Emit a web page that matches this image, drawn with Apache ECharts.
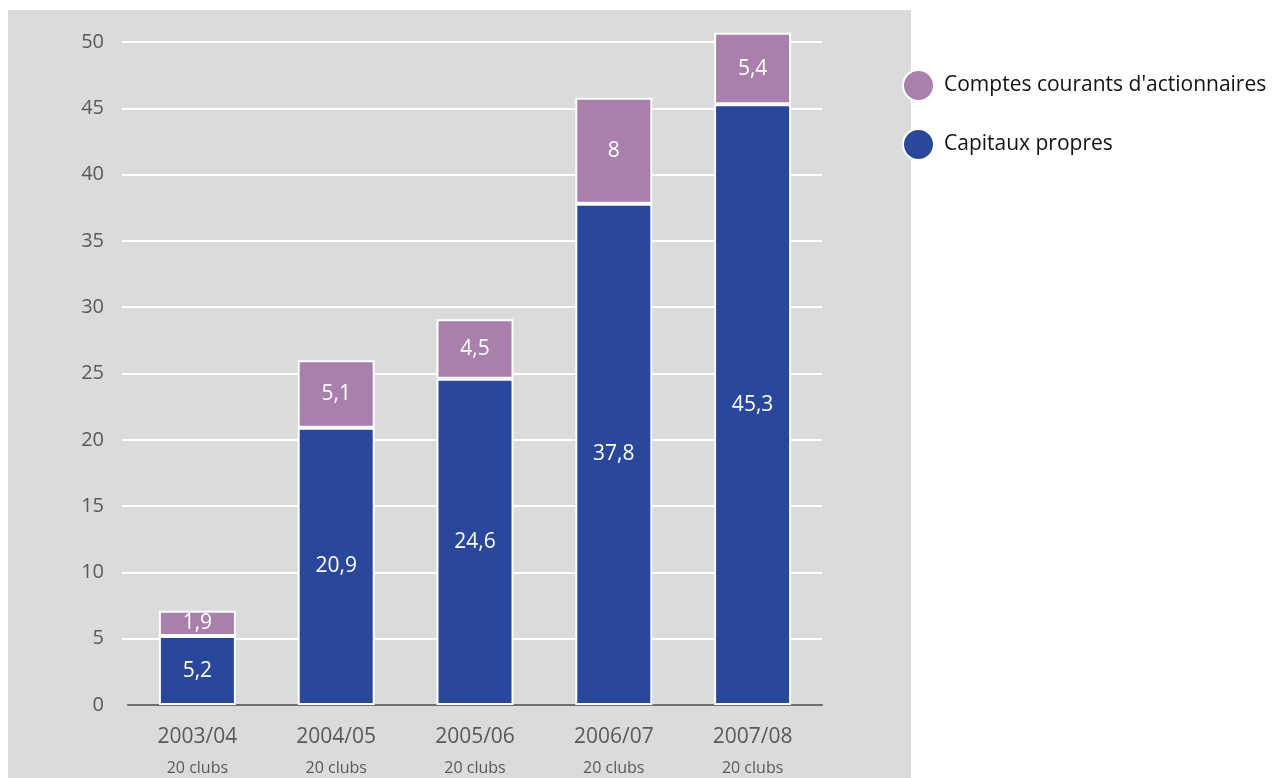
<!DOCTYPE html>
<html>
<head>
<meta charset="utf-8">
<script src="https://cdn.jsdelivr.net/npm/echarts@6/dist/echarts.min.js"></script>
<style>
  html, body { margin: 0; padding: 0; background: #ffffff; }
  #chart { width: 1281px; height: 778px; }
</style>
</head>
<body>
<div id="chart"></div>
<script>
// Saisons et nombre de clubs
const seasons = ['2003/04', '2004/05', '2005/06', '2006/07', '2007/08'];
const clubs = ['20 clubs', '20 clubs', '20 clubs', '20 clubs', '20 clubs'];
// Montants (en millions d'euros)
const capitauxPropres = [5.2, 20.9, 24.6, 37.8, 45.3];
const comptesCourants = [1.9, 5.1, 4.5, 8, 5.4];
const yTicks = [0, 5, 10, 15, 20, 25, 30, 35, 40, 45, 50];

const FONT = '"Open Sans", "Noto Sans", sans-serif';
const fmt = v => String(v).replace('.', ',');

const chart = echarts.init(document.getElementById('chart'), null, { renderer: 'canvas' });

const labelStyle = {
  show: true,
  position: 'inside',
  color: '#ffffff',
  fontFamily: FONT,
  fontSize: 21,
  formatter: p => fmt(p.value)
};

chart.setOption({
  animation: false,
  backgroundColor: '#ffffff',
  graphic: [{
    type: 'rect',
    z: -100,
    silent: true,
    shape: { x: 8, y: 10, width: 903, height: 768 },
    style: { fill: '#dadbdb' }
  }],
  legend: {
    orient: 'vertical',
    left: 897,
    top: 64,
    itemWidth: 31,
    itemHeight: 31,
    itemGap: 26,
    icon: 'circle',
    data: ['Comptes courants d\'actionnaires', 'Capitaux propres'],
    textStyle: { fontFamily: FONT, fontSize: 21, lineHeight: 24, color: '#111111', padding: [0, 0, 0, 5] }
  },
  grid: { left: 128, right: 459, top: 42, bottom: 73, containLabel: false },
  xAxis: {
    type: 'category',
    data: seasons,
    axisLine: { show: true, lineStyle: { color: '#6d6e70', width: 2 } },
    axisTick: { show: false },
    axisLabel: {
      margin: 17,
      formatter: (v, i) => '{a|' + v + '}\n{b|' + clubs[i] + '}',
      rich: {
        a: { fontFamily: FONT, fontSize: 21, color: '#58595b', lineHeight: 30 },
        b: { fontFamily: FONT, fontSize: 16, color: '#58595b', lineHeight: 32 }
      }
    }
  },
  yAxis: {
    type: 'value',
    min: 0,
    max: 50,
    interval: 5,
    axisLine: { show: false },
    axisTick: {
      show: true,
      length: 6,
      customValues: yTicks.slice(1),
      lineStyle: { color: '#ffffff', width: 2 }
    },
    splitLine: { show: true, lineStyle: { color: '#ffffff', width: 2 } },
    axisLabel: {
      margin: 24,
      fontFamily: FONT,
      fontSize: 20,
      color: '#58595b',
      customValues: yTicks
    }
  },
  series: [
    {
      name: 'Capitaux propres',
      type: 'bar',
      stack: 'total',
      barWidth: 77,
      clip: false,
      data: capitauxPropres,
      itemStyle: { color: '#29479b', borderColor: '#ffffff', borderWidth: 2 },
      label: labelStyle
    },
    {
      name: 'Comptes courants d\'actionnaires',
      type: 'bar',
      stack: 'total',
      barWidth: 77,
      clip: false,
      data: comptesCourants,
      itemStyle: { color: '#a97fab', borderColor: '#ffffff', borderWidth: 2 },
      label: labelStyle
    }
  ]
});
</script>
</body>
</html>
